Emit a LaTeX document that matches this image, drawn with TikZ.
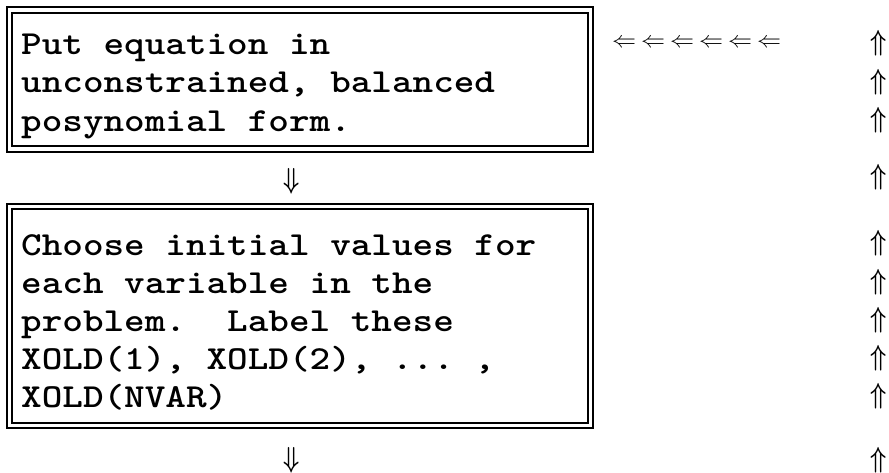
\documentclass[tikz,border=0pt]{standalone}
\usepackage{fontspec}
\usepackage{graphicx}
\frenchspacing
% typewriter lines, widened to the usual courier pitch
\newcommand{\tw}[1]{\scalebox{1.168}[1]{#1}}
\tikzset{
  frameout/.style={draw=black, line width=2.6pt},
  framein/.style={draw=black, line width=1.1pt},
  linetext/.style={font=\ttfamily\bfseries\fontsize{33.6}{38}\selectfont,
                   inner sep=0pt, anchor=base west},
  glyph/.style={inner sep=0pt, anchor=center},
}
\newcommand{\uparr}{\scalebox{2.3}[2.9]{\boldmath$\Uparrow$}}
\newcommand{\downarr}{\scalebox{2.3}[2.9]{\boldmath$\Downarrow$}}
\newcommand{\leftarr}{\scalebox{2.4}[2.3]{$\Leftarrow$}}
\begin{document}
\begin{tikzpicture}[x=1pt, y=-1pt]
  \useasboundingbox[fill=white] (0,0) rectangle (889,472);

  % first box: double frame (heavy outer, thin inner)
  \draw[frameout] (7,7) rectangle (593,152);
  \draw[framein] (12,13) rectangle (588,146);
  \node[linetext] (a1) at (21,54)  {\tw{Put equation in}};
  \node[linetext] (a2) at (21,92)  {\tw{unconstrained, balanced}};
  \node[linetext] (a3) at (21,131) {\tw{posynomial form.}};

  % second box
  \draw[frameout] (7,204) rectangle (593,428);
  \draw[framein] (12,209) rectangle (588,423);
  \node[linetext] (b1) at (21,255) {\tw{Choose initial values for}};
  \node[linetext] (b2) at (21,293) {\tw{each variable in the}};
  \node[linetext] (b3) at (21,331) {\tw{problem.\ \ Label these}};
  \node[linetext] (b4) at (21,369) {\tw{XOLD(1), XOLD(2), ... ,}};
  \node[linetext] (b5) at (21,407) {\tw{XOLD(NVAR)}};

  % flow arrows between the boxes
  \node[glyph] (d1) at (292,181) {\downarr};
  \node[glyph] (d2) at (292,460) {\downarr};

  % return path: leftward row and upward column
  \node[glyph, anchor=west] (ret) at (612,43)
    {\leftarr\hspace{5pt}\leftarr\hspace{5pt}\leftarr\hspace{5pt}\leftarr\hspace{5pt}\leftarr\hspace{5pt}\leftarr};
  \foreach \yy [count=\i] in {43,82,120,177,243,282,320,358,396,460}
    \node[glyph] (u\i) at (879,\yy) {\uparr};
\end{tikzpicture}
\end{document}
